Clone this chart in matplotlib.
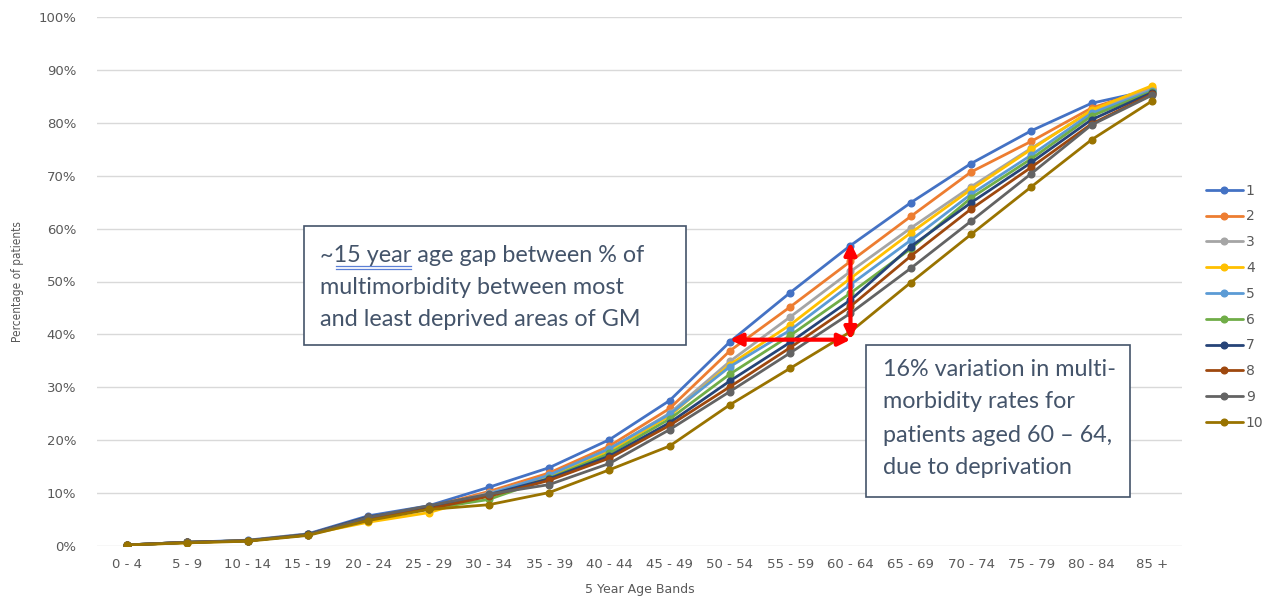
import matplotlib
matplotlib.use("Agg")
import matplotlib.pyplot as plt
from matplotlib.lines import Line2D

age_bands = ["0 - 4", "5 - 9", "10 - 14", "15 - 19", "20 - 24", "25 - 29", "30 - 34",
             "35 - 39", "40 - 44", "45 - 49", "50 - 54", "55 - 59", "60 - 64",
             "65 - 69", "70 - 74", "75 - 79", "80 - 84", "85 +"]

# Percentage of patients with multimorbidity, by deprivation decile (1 = most deprived)
decile_1 = [0.2, 0.7, 1.1, 2.3, 5.7, 7.6, 11.1, 14.8, 20.1, 27.5, 38.6, 47.9, 56.8, 64.9, 72.3, 78.5, 83.7, 86.2]
decile_2 = [0.2, 0.7, 1.0, 2.2, 5.4, 7.3, 10.3, 13.8, 18.9, 26.0, 36.9, 45.2, 53.8, 62.3, 70.7, 76.5, 82.8, 86.5]
decile_3 = [0.2, 0.7, 1.0, 2.2, 5.3, 7.2, 10.0, 13.3, 18.3, 25.1, 34.9, 43.3, 51.9, 60.1, 67.9, 75.2, 82.2, 86.4]
decile_4 = [0.2, 0.6, 1.0, 2.2, 4.5, 6.3, 9.6, 13.2, 18.0, 24.6, 34.3, 41.8, 50.6, 59.2, 67.4, 75.0, 82.4, 87.0]
decile_5 = [0.2, 0.7, 1.0, 2.2, 5.2, 7.0, 9.8, 13.4, 18.4, 24.9, 33.9, 40.8, 49.4, 57.8, 66.5, 73.9, 81.8, 86.1]
decile_6 = [0.2, 0.7, 1.0, 2.1, 5.2, 7.0, 8.8, 12.8, 17.5, 24.0, 32.5, 39.8, 47.8, 56.2, 65.8, 73.2, 81.3, 85.9]
decile_7 = [0.2, 0.7, 1.0, 2.2, 5.5, 7.2, 9.7, 12.7, 17.0, 23.3, 31.2, 38.5, 46.5, 56.6, 64.9, 72.5, 80.6, 85.7]
decile_8 = [0.2, 0.7, 1.0, 2.1, 5.2, 7.0, 9.4, 12.4, 16.6, 22.8, 30.1, 37.5, 45.3, 54.8, 63.7, 71.6, 79.8, 85.4]
decile_9 = [0.2, 0.7, 1.0, 2.1, 5.4, 7.6, 9.8, 11.6, 15.6, 22.0, 29.2, 36.5, 44.0, 52.5, 61.4, 70.4, 79.6, 85.2]
decile_10 = [0.2, 0.6, 0.9, 2.0, 4.8, 6.9, 7.8, 10.1, 14.4, 18.9, 26.7, 33.6, 40.5, 49.8, 58.9, 67.9, 76.8, 84.1]

series = [decile_1, decile_2, decile_3, decile_4, decile_5,
          decile_6, decile_7, decile_8, decile_9, decile_10]
series_labels = ["1", "2", "3", "4", "5", "6", "7", "8", "9", "10"]
colors = ["#4472C4", "#ED7D31", "#A5A5A5", "#FFC000", "#5B9BD5",
          "#70AD47", "#264478", "#9E480E", "#636363", "#997300"]

text_col = "#44546A"
tick_col = "#595959"

fig = plt.figure(figsize=(12.74, 5.96), dpi=100)
ax = fig.add_axes([97 / 1274, 50 / 596, (1182 - 97) / 1274, (546 - 17) / 596])

x = list(range(len(age_bands)))
handles = []
for i, (vals, lab, c) in enumerate(zip(series, series_labels, colors)):
    h, = ax.plot(x, vals, color=c, lw=2.0, marker="o", ms=4.8, label=lab, zorder=3 + i,
                 solid_capstyle="round")
    handles.append(h)

ax.set_xlim(-0.5, len(age_bands) - 0.5)
ax.set_ylim(0, 100)
ax.set_yticks(range(0, 101, 10))
ax.set_yticklabels([f"{v}%" for v in range(0, 101, 10)])
ax.set_xticks(x)
ax.set_xticklabels(age_bands)
ax.grid(axis="y", color="#D9D9D9", lw=1.0, zorder=0)
ax.set_axisbelow(True)
for s in ax.spines.values():
    s.set_visible(False)
ax.tick_params(axis="both", length=0, colors=tick_col, labelsize=9.5)
ax.tick_params(axis="y", pad=15)
ax.tick_params(axis="x", pad=9)

ax.set_xlabel("5 Year Age Bands", color=tick_col, fontsize=9, labelpad=8)
ax.set_ylabel("Percentage of patients", color=tick_col, fontsize=8.5, labelpad=10)
ax.yaxis.label.set_fontstretch("condensed")

# Red double-headed arrows: age gap at ~39% (50-54 to 60-64) and deprivation gap at 60-64
i_5054 = age_bands.index("50 - 54")
i_6064 = age_bands.index("60 - 64")
arrow_y = 39.0
ax.annotate("", xy=(i_6064, arrow_y), xytext=(i_5054, arrow_y),
            arrowprops=dict(arrowstyle="<|-|>", color="#FF0000", lw=3,
                            mutation_scale=18, shrinkA=0, shrinkB=0), zorder=20)
ax.annotate("", xy=(i_6064, decile_1[i_6064] + 0.6), xytext=(i_6064, arrow_y),
            arrowprops=dict(arrowstyle="<|-|>", color="#FF0000", lw=3,
                            mutation_scale=18, shrinkA=0, shrinkB=0), zorder=20)

# Legend
leg = fig.legend(handles=handles, loc="upper left", bbox_to_anchor=(1200 / 1274, 1 - 178 / 596),
                 frameon=False, fontsize=10, labelcolor=tick_col, handlelength=2.7,
                 handletextpad=0.2, labelspacing=0.85, borderaxespad=0)

# Annotation boxes
def box(x0, y0, x1, y1):
    r = plt.Rectangle((x0 / 1274, 1 - y1 / 596), (x1 - x0) / 1274, (y1 - y0) / 596,
                      transform=fig.transFigure, facecolor="white", edgecolor=text_col,
                      lw=1.2, zorder=30)
    fig.add_artist(r)

box(304, 226, 686, 345)
box1_lines = ["~15 year age gap between % of", "multimorbidity between most",
              "and least deprived areas of GM"]
for k, line in enumerate(box1_lines):
    fig.text(320 / 1274, 1 - (255 + 32.5 * k) / 596, line, fontsize=16.8, color=text_col,
             family="Lato", va="center", ha="left", zorder=31)
# spell-check style double underline beneath "15 year"
for yy in (265.5, 268.5):
    fig.add_artist(Line2D([336 / 1274, 411 / 1274], [1 - yy / 596, 1 - yy / 596],
                          transform=fig.transFigure, color="#5B7FD6", lw=0.9, zorder=32))

box(866, 345, 1130, 497)
box2_lines = ["16% variation in multi-", "morbidity rates for",
              "patients aged 60 \u2013 64,", "due to deprivation"]
for k, line in enumerate(box2_lines):
    fig.text(883 / 1274, 1 - (369 + 33 * k) / 596, line, fontsize=16.8, color=text_col,
             family="Lato", va="center", ha="left", zorder=31)

fig.savefig("out.png", dpi=100, facecolor="white")
